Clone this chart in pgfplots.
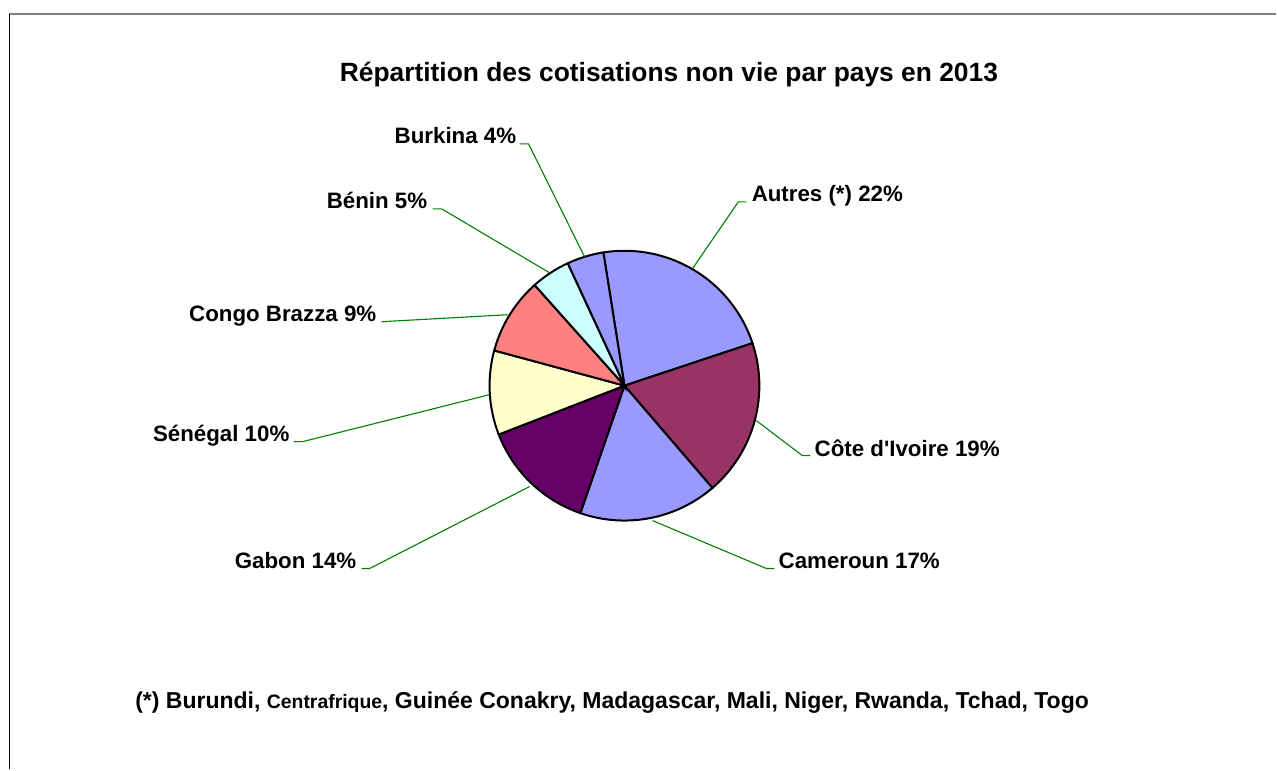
\documentclass[border=0pt]{standalone}
\usepackage{pgfplots}
\pgfplotsset{compat=1.18}
\usepackage{fontspec}
\setmainfont{Liberation Sans}[Ligatures=TeXOff]
\definecolor{cBlue}{HTML}{9999FF}
\definecolor{cPlum}{HTML}{993366}
\definecolor{cPurple}{HTML}{660066}
\definecolor{cCream}{HTML}{FFFFCC}
\definecolor{cCoral}{HTML}{FF8080}
\definecolor{cCyan}{HTML}{CCFFFF}
\definecolor{cLeader}{HTML}{008000}
% slice: colour, cumulative share before it (%), share (%)
\newcommand{\slice}[3]{%
  \pgfmathsetmacro\da{99-3.6*(#2+#3)}%
  \pgfmathsetmacro\db{99-3.6*(#2)}%
  \addplot[draw=black, line width=1bp, fill=#1, domain=\da:\db, samples=80, variable=\t]
    ({625+135*cos(\t)}, {386-135*sin(\t)}) -- (axis cs:625,386) -- cycle;
}
\begin{document}
\begin{tikzpicture}
\begin{axis}[hide axis, scale only axis, width=638.5bp, height=385bp,
  xmin=0, xmax=1277, ymin=0, ymax=770, y dir=reverse, clip=false]
\path (axis cs:0,0) rectangle (axis cs:1277,770);
% frame
\draw[color=gray, line width=1.1bp] (axis cs:9,14) -- (axis cs:1277,14);
\draw[color=black, line width=0.8bp] (axis cs:9.5,14) -- (axis cs:9.5,770);
% pie: Autres, Côte d'Ivoire, Cameroun, Gabon, Sénégal, Congo Brazza, Bénin, Burkina
\slice{cBlue}{0}{22.4}
\slice{cPlum}{22.4}{18.8}
\slice{cBlue}{41.2}{16.6}
\slice{cPurple}{57.8}{13.8}
\slice{cCream}{71.6}{10.1}
\slice{cCoral}{81.7}{9.2}
\slice{cCyan}{90.9}{4.7}
\slice{cBlue}{95.6}{4.4}
% leader lines
\addplot[cLeader, line width=0.55bp] coordinates {(585,257) (529,144) (520,144)};
\addplot[cLeader, line width=0.55bp] coordinates {(550,273) (442,209) (433,209)};
\addplot[cLeader, line width=0.55bp] coordinates {(508,315) (382,322)};
\addplot[cLeader, line width=0.55bp] coordinates {(490,395) (303,442) (294,442)};
\addplot[cLeader, line width=0.55bp] coordinates {(530,487) (370,569) (362,569)};
\addplot[cLeader, line width=0.55bp] coordinates {(693,269) (739,202) (747,202)};
\addplot[cLeader, line width=0.55bp] coordinates {(757,421) (803,456) (811,456)};
\addplot[cLeader, line width=0.55bp] coordinates {(653,521) (767,569) (775,569)};
% labels
\tikzset{lab/.style={inner sep=0pt, font=\bfseries\fontsize{11.2}{13}\selectfont}}
\node[lab, anchor=base east] at (axis cs:517,144) {Burkina 4\%};
\node[lab, anchor=base east] at (axis cs:428,209) {Bénin 5\%};
\node[lab, anchor=base east] at (axis cs:377,322) {Congo Brazza 9\%};
\node[lab, anchor=base east] at (axis cs:290,442) {Sénégal 10\%};
\node[lab, anchor=base east] at (axis cs:357,569) {Gabon 14\%};
\node[lab, anchor=base west] at (axis cs:752,202) {Autres (*) 22\%};
\node[lab, anchor=base west] at (axis cs:815,457) {Côte d'Ivoire 19\%};
\node[lab, anchor=base west] at (axis cs:779,569) {Cameroun 17\%};
% title
\node[inner sep=0pt, anchor=base, font=\bfseries\fontsize{13.25}{15}\selectfont] at (axis cs:669.5,82) {Répartition des cotisations non vie par pays en 2013};
% footnote
\node[inner sep=0pt, anchor=base west, font=\bfseries\fontsize{11.55}{13}\selectfont] at (axis cs:135,709)
  {(*) Burundi, {\fontsize{9.75}{11}\selectfont Centrafrique}, Guinée Conakry, Madagascar, Mali, Niger, Rwanda, Tchad, Togo};
\end{axis}
\end{tikzpicture}
\end{document}
